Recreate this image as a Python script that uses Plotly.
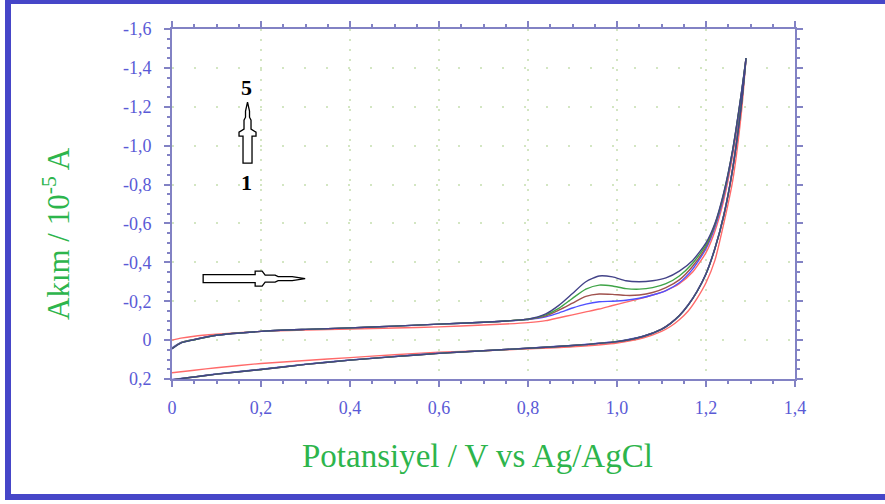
import plotly.graph_objects as go

# Cyclic voltammogram, 5 successive cycles (current in 10^-5 A, anodic plotted upward)
E_fwd = [0.00, 0.02, 0.05, 0.10, 0.20, 0.30, 0.40, 0.50, 0.60, 0.70, 0.75, 0.80,
         0.84, 0.87, 0.90, 0.93, 0.96, 0.99, 1.02, 1.05, 1.08, 1.11, 1.14, 1.17,
         1.20, 1.22, 1.24, 1.26, 1.28, 1.29]
E_rev = [1.29, 1.28, 1.26, 1.24, 1.22, 1.20, 1.18, 1.16, 1.14, 1.12, 1.10, 1.06,
         1.00, 0.90, 0.80, 0.70, 0.60, 0.50, 0.40, 0.30, 0.20, 0.10, 0.05, 0.02, 0.00]

I_fwd_1 = [0.000, -0.010, -0.020, -0.030, -0.045, -0.052, -0.057, -0.062, -0.068, -0.078, -0.083, -0.090,
           -0.100, -0.115, -0.130, -0.145, -0.160, -0.178, -0.195, -0.212, -0.232, -0.255, -0.290, -0.350,
           -0.450, -0.560, -0.720, -0.950, -1.260, -1.450]
I_fwd_2 = [0.040, 0.012, -0.004, -0.025, -0.045, -0.055, -0.063, -0.072, -0.082, -0.092, -0.098, -0.106,
           -0.120, -0.140, -0.165, -0.185, -0.197, -0.200, -0.205, -0.215, -0.232, -0.255, -0.295, -0.365,
           -0.470, -0.580, -0.740, -0.970, -1.270, -1.450]
I_fwd_3 = [0.042, 0.013, -0.003, -0.025, -0.045, -0.055, -0.063, -0.072, -0.082, -0.092, -0.098, -0.107,
           -0.125, -0.155, -0.190, -0.225, -0.237, -0.235, -0.230, -0.232, -0.245, -0.270, -0.310, -0.380,
           -0.480, -0.590, -0.750, -0.975, -1.275, -1.450]
I_fwd_4 = [0.044, 0.014, -0.002, -0.025, -0.045, -0.055, -0.063, -0.072, -0.082, -0.092, -0.098, -0.107,
           -0.130, -0.165, -0.215, -0.262, -0.283, -0.278, -0.265, -0.262, -0.270, -0.290, -0.330, -0.395,
           -0.490, -0.595, -0.755, -0.978, -1.278, -1.450]
I_fwd_5 = [0.045, 0.015, -0.002, -0.025, -0.045, -0.055, -0.063, -0.072, -0.082, -0.092, -0.098, -0.108,
           -0.135, -0.180, -0.240, -0.300, -0.330, -0.325, -0.305, -0.300, -0.305, -0.320, -0.355, -0.410,
           -0.500, -0.600, -0.760, -0.980, -1.280, -1.450]

I_rev_1 = [-1.450, -1.180, -0.820, -0.600, -0.410, -0.295, -0.215, -0.150, -0.105, -0.070, -0.045, -0.012,
           0.015, 0.034, 0.045, 0.055, 0.062, 0.075, 0.090, 0.105, 0.120, 0.142, 0.155, 0.163, 0.168]
I_rev_2 = [-1.450, -1.225, -0.885, -0.645, -0.472, -0.342, -0.252, -0.182, -0.127, -0.087, -0.057, -0.021,
           0.007, 0.027, 0.041, 0.054, 0.067, 0.084, 0.102, 0.124, 0.150, 0.174, 0.189, 0.197, 0.203]
I_rev_3 = [-1.450, -1.222, -0.882, -0.642, -0.471, -0.341, -0.251, -0.181, -0.126, -0.086, -0.056, -0.020,
           0.008, 0.028, 0.042, 0.055, 0.068, 0.085, 0.103, 0.125, 0.151, 0.175, 0.190, 0.198, 0.204]
I_rev_4 = [-1.450, -1.221, -0.881, -0.641, -0.470, -0.340, -0.250, -0.180, -0.125, -0.085, -0.055, -0.020,
           0.008, 0.028, 0.042, 0.055, 0.068, 0.085, 0.103, 0.125, 0.151, 0.175, 0.190, 0.198, 0.205]
I_rev_5 = [-1.450, -1.220, -0.880, -0.640, -0.470, -0.340, -0.250, -0.180, -0.125, -0.085, -0.055, -0.020,
           0.008, 0.028, 0.042, 0.055, 0.068, 0.085, 0.103, 0.125, 0.151, 0.175, 0.190, 0.198, 0.205]

cycles = [
    (I_fwd_1, I_rev_1, "#ff6a6a"),
    (I_fwd_2, I_rev_2, "#5050ff"),
    (I_fwd_3, I_rev_3, "#a0524e"),
    (I_fwd_4, I_rev_4, "#3fa447"),
    (I_fwd_5, I_rev_5, "#434388"),
]

x_ticks = [0, 0.2, 0.4, 0.6, 0.8, 1.0, 1.2, 1.4]
x_labels = ["0", "0,2", "0,4", "0,6", "0,8", "1,0", "1,2", "1,4"]
y_ticks = [-1.6, -1.4, -1.2, -1.0, -0.8, -0.6, -0.4, -0.2, 0, 0.2]
y_labels = ["-1,6", "-1,4", "-1,2", "-1,0", "-0,8", "-0,6", "-0,4", "-0,2", "0", "0,2"]

W, H = 885, 504
ML, MR, MT, MB = 172, 90, 29, 125
X_RANGE = [0, 1.4]
Y_RANGE = [0.2, -1.6]

fig = go.Figure()
for i_f, i_r, col in cycles:
    fig.add_trace(go.Scatter(
        x=E_fwd + E_rev, y=i_f + i_r, mode="lines",
        line=dict(color=col, width=1.4, shape="spline", smoothing=0.6),
        showlegend=False, hoverinfo="skip"))

# helpers to place decorations by screen offset
pw, ph = W - ML - MR, H - MT - MB
def dx(px):
    return px * (X_RANGE[1] - X_RANGE[0]) / pw
def dy(px):
    return px * (Y_RANGE[0] - Y_RANGE[1]) / ph  # positive px = downward

def path_from(x0, y0, pts):
    s = ""
    for k, (ox, oy) in enumerate(pts):
        s += ("M" if k == 0 else "L") + f"{x0 + dx(ox):.5f},{y0 + dy(oy):.5f} "
    return s + "Z"

# horizontal hollow arrow (scan direction)
hx, hy = 0.07, -0.316
h_pts = [(0, -4), (52, -4), (52, -7.5), (59, -7.5), (62, -3.5), (72, -3.5), (75, -2), (89, -2),
         (102, 0), (89, 2), (75, 2), (72, 3.5), (62, 3.5), (59, 7.5), (52, 7.5), (52, 4), (0, 4)]
# vertical hollow arrow (cycle growth)
vx, vy = 0.1697, -0.91
v_pts = [(-4.5, 0), (-4.5, -27), (-8.5, -27), (-8.5, -31), (-3.5, -34), (-3.5, -43), (-2, -46), (-2, -52),
         (0, -61), (2, -52), (2, -46), (3.5, -43), (3.5, -34), (8.5, -31), (8.5, -27), (4.5, -27), (4.5, 0)]

shapes = [
    dict(type="path", xref="x", yref="y", path=path_from(hx, hy, h_pts),
         line=dict(color="black", width=1.3), fillcolor="white", layer="above"),
    dict(type="path", xref="x", yref="y", path=path_from(vx, vy, v_pts),
         line=dict(color="black", width=1.3), fillcolor="white", layer="above"),
    # outer frame
    dict(type="rect", xref="paper", yref="paper",
         x0=(8 - ML) / pw, x1=(892 - ML) / pw,
         y0=(H - MB - 497) / ph, y1=(H - MB - 1) / ph,
         line=dict(color="#4646c8", width=6), fillcolor="rgba(0,0,0,0)", layer="above"),
]

tick_font = dict(family="Liberation Serif", size=18, color="#5a5ad6")
axis_common = dict(
    showline=True, linecolor="#8282c4", linewidth=2, mirror="allticks",
    ticks="outside", ticklen=6, tickcolor="#8282c4", tickwidth=1.5,
    showgrid=True, gridcolor="#d3e6c2", gridwidth=1.5,
    zeroline=False, tickfont=tick_font,
)

fig.update_xaxes(range=X_RANGE, tickvals=x_ticks, ticktext=x_labels,
                 minor=dict(dtick=0.05, ticks="outside", ticklen=3, tickcolor="#8282c4", showgrid=False),
                 griddash="2px,8px", ticklabelstandoff=5, **axis_common)
fig.update_yaxes(range=Y_RANGE, tickvals=y_ticks, ticktext=y_labels,
                 minor=dict(dtick=0.05, ticks="outside", ticklen=3, tickcolor="#8282c4", showgrid=False),
                 griddash="2px,20px", ticklabelstandoff=9, **axis_common)

xtitle_font = dict(family="Liberation Serif", size=33, color="#2db54c")
ytitle_font = dict(family="Liberation Serif", size=31, color="#2db54c")
label_font = dict(family="Liberation Serif", size=22, color="black")
annotations = [
    dict(text="Akım / 10<sup>-5</sup> A", xref="paper", yref="paper",
         x=(57 - ML) / pw, y=(H - MB - 234) / ph, textangle=-90, showarrow=False,
         font=ytitle_font, xanchor="center", yanchor="middle"),
    dict(text="Potansiyel / V vs Ag/AgCl", xref="paper", yref="paper",
         x=(477 - ML) / pw, y=(H - MB - 456) / ph, showarrow=False,
         font=xtitle_font, xanchor="center", yanchor="middle"),
    dict(text="<b>5</b>", x=0.167, y=-1.30, xref="x", yref="y", showarrow=False, font=label_font),
    dict(text="<b>1</b>", x=0.167, y=-0.81, xref="x", yref="y", showarrow=False, font=label_font),
]

fig.update_layout(
    width=W, height=H, margin=dict(l=ML, r=MR, t=MT, b=MB),
    paper_bgcolor="white", plot_bgcolor="white",
    shapes=shapes, annotations=annotations, showlegend=False,
)

fig.write_html("out.html")
